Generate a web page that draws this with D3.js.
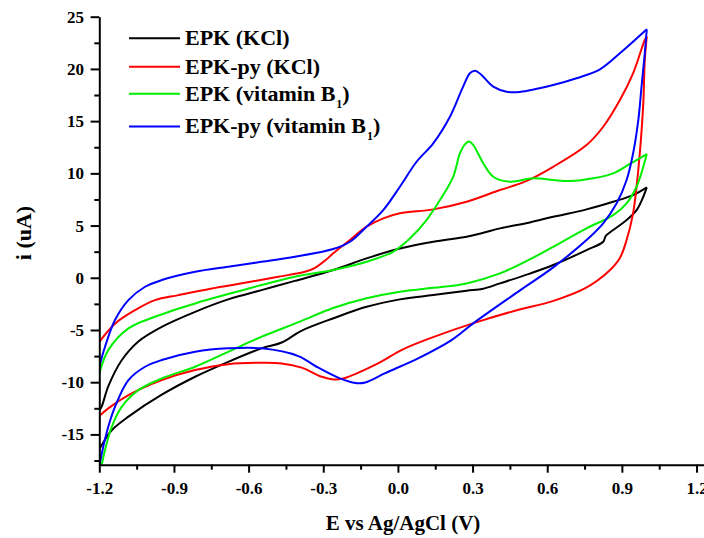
<!DOCTYPE html>
<html>
    <head>
        <meta charset="utf-8">
        <script src="https://cdnjs.cloudflare.com/ajax/libs/d3/7.8.5/d3.min.js"></script>
        <title>Cyclic voltammograms</title>
        <style>
            html, body {
                margin: 0;
                background: #fff;
            }
            svg {
                display: block;
                font-family: "Liberation Serif", "Times New Roman", serif;
                font-weight: bold;
            }
        </style>
    </head>
    <body>
        <svg width="704" height="538"></svg>

        <script>
            // tick labels
            var xTicks = [-1.2, -0.9, -0.6, -0.3, 0.0, 0.3, 0.6, 0.9, 1.2];
            var xMinor = [-1.05, -0.75, -0.45, -0.15, 0.15, 0.45, 0.75, 1.05];
            var yTicks = [-15, -10, -5, 0, 5, 10, 15, 20, 25];
            var yMinor = [-17.5, -12.5, -7.5, -2.5, 2.5, 7.5, 12.5, 17.5, 22.5];

            // [E (V), i (uA)] - forward (anodic) and reverse scans
            var epkKClFwd = [[-1.2,-12.7],[-1.19,-12.3],[-1.164,-10.4],[-1.11,-7.9],[-1.043,-6.1],[-0.949,-4.7],[-0.815,-3.26],[-0.682,-2.07],[-0.548,-1.18],[-0.414,-0.3],[-0.26,0.74],[-0.126,1.86],[0.008,2.8],[0.142,3.45],[0.276,3.93],[0.343,4.31],[0.41,4.73],[0.53,5.3],[0.624,5.84],[0.758,6.55],[0.865,7.28],[0.945,7.92],[1.0,8.66]];
            var epkKClRev = [[1.0,8.66],[0.986,7.76],[0.959,6.48],[0.919,5.53],[0.865,4.57],[0.835,4.0],[0.825,3.45],[0.758,2.65],[0.624,1.22],[0.53,0.4],[0.41,-0.54],[0.343,-1.05],[0.276,-1.24],[0.142,-1.66],[0.008,-2.07],[-0.126,-2.78],[-0.256,-3.85],[-0.39,-5.1],[-0.467,-6.2],[-0.548,-6.76],[-0.682,-8.05],[-0.815,-9.48],[-0.949,-11.2],[-1.083,-13.3],[-1.15,-14.6],[-1.19,-16.0],[-1.2,-16.4]];

            var epkPyKClFwd = [[-1.2,-6.13],[-1.136,-4.37],[-1.056,-3.09],[-0.976,-2.14],[-0.882,-1.66],[-0.748,-1.02],[-0.615,-0.48],[-0.481,0.1],[-0.374,0.57],[-0.333,0.95],[-0.29,1.7],[-0.26,2.34],[-0.193,3.61],[-0.126,4.89],[-0.059,5.69],[0.008,6.17],[0.142,6.55],[0.276,7.28],[0.41,8.4],[0.51,9.2],[0.624,10.63],[0.758,12.71],[0.825,14.46],[0.892,17.02],[0.945,19.58],[0.992,22.77],[1.0,23.1]];
            var epkPyKClRev = [[1.0,23.1],[0.992,20.85],[0.986,16.7],[0.972,11.9],[0.959,8.72],[0.945,6.17],[0.919,3.61],[0.892,1.9],[0.846,0.6],[0.753,-1.0],[0.619,-2.26],[0.485,-3.06],[0.304,-4.34],[0.15,-5.61],[0.016,-6.9],[-0.078,-8.17],[-0.22,-9.64],[-0.26,-9.73],[-0.306,-9.48],[-0.387,-8.6],[-0.467,-8.2],[-0.548,-8.14],[-0.682,-8.27],[-0.815,-8.84],[-0.949,-9.8],[-1.083,-11.24],[-1.164,-12.51],[-1.2,-13.25]];

            var epkB1Fwd = [[-1.2,-9.16],[-1.164,-6.93],[-1.083,-4.85],[-0.976,-3.73],[-0.815,-2.46],[-0.682,-1.56],[-0.548,-0.7],[-0.414,0.1],[-0.26,0.74],[-0.126,1.53],[-0.02,2.49],[0.048,3.77],[0.115,5.53],[0.169,7.44],[0.222,9.67],[0.249,11.9],[0.27,12.8],[0.285,13.05],[0.303,12.71],[0.343,10.96],[0.383,9.67],[0.45,9.2],[0.544,9.52],[0.624,9.36],[0.691,9.26],[0.785,9.52],[0.865,10.0],[0.932,10.9],[1.0,11.85]];
            var epkB1Rev = [[1.0,11.85],[0.986,10.63],[0.959,8.72],[0.919,7.13],[0.865,6.0],[0.758,4.73],[0.624,2.97],[0.53,1.76],[0.41,0.42],[0.276,-0.54],[0.142,-0.96],[0.008,-1.34],[-0.126,-1.97],[-0.26,-2.9],[-0.394,-4.2],[-0.548,-5.65],[-0.682,-7.09],[-0.815,-8.52],[-0.949,-9.64],[-1.043,-10.76],[-1.11,-12.36],[-1.15,-14.27],[-1.177,-16.5],[-1.19,-17.9],[-1.195,-18.6]];

            var epkPyB1Fwd = [[-1.2,-8.52],[-1.177,-6.61],[-1.137,-4.05],[-1.083,-2.14],[-1.016,-0.86],[-0.949,-0.22],[-0.815,0.57],[-0.682,1.05],[-0.548,1.53],[-0.414,2.01],[-0.26,2.75],[-0.193,3.45],[-0.126,4.89],[-0.059,6.48],[0.008,8.72],[0.075,11.11],[0.142,12.87],[0.209,15.42],[0.262,18.3],[0.29,19.6],[0.311,19.83],[0.336,19.42],[0.383,18.3],[0.437,17.82],[0.49,17.8],[0.624,18.46],[0.718,19.1],[0.812,19.96],[0.892,21.49],[1.0,23.79]];
            var epkPyB1Rev = [[1.0,23.79],[0.992,21.49],[0.979,18.3],[0.966,15.1],[0.945,11.9],[0.919,9.36],[0.879,7.13],[0.825,5.21],[0.758,3.61],[0.624,1.0],[0.485,-1.3],[0.304,-4.34],[0.217,-5.94],[0.083,-7.69],[-0.051,-9.13],[-0.131,-10.02],[-0.17,-10.08],[-0.233,-9.64],[-0.327,-8.52],[-0.4,-7.5],[-0.548,-6.76],[-0.682,-6.76],[-0.815,-7.09],[-0.949,-7.88],[-1.016,-8.52],[-1.083,-9.8],[-1.137,-12.36],[-1.164,-14.27],[-1.19,-16.82],[-1.2,-18.1]];

            var series = [
                {name: "EPK (KCl)", sub: null, color: "#000000", scans: [epkKClFwd, epkKClRev]},
                {name: "EPK-py (KCl)", sub: null, color: "#ff0000", scans: [epkPyKClFwd, epkPyKClRev]},
                {name: "EPK (vitamin B", sub: "1", color: "#00ee00", scans: [epkB1Fwd, epkB1Rev]},
                {name: "EPK-py (vitamin B", sub: "1", color: "#0000ff", scans: [epkPyB1Fwd, epkPyB1Rev]}
            ];

            var svg = d3.select("svg");

            var x = d3.scaleLinear().domain([-1.2, 1.23]).range([99.3, 704]);
            var y = d3.scaleLinear().domain([-17.9, 25]).range([464.7, 16.7]);

            // plain hyphen for negatives, like the original
            function fmt(f) {
                var g = d3.format(f);
                return function(d){ return g(d).replace("\u2212", "-"); };
            }

            // clip curves to plot area
            svg.append("clipPath").attr("id", "plot")
                .append("rect")
                .attr("x", 99).attr("y", 16.7)
                .attr("width", 605).attr("height", 448);

            var line = d3.line()
                .x(function(d){ return x(d[0]); })
                .y(function(d){ return y(d[1]); })
                .curve(d3.curveCatmullRom.alpha(0.5));

            var curves = svg.append("g").attr("clip-path", "url(#plot)");
            series.forEach(function(s){
                s.scans.forEach(function(scan){
                    curves.append("path")
                        .attr("d", line(scan))
                        .attr("fill", "none")
                        .attr("stroke", s.color)
                        .attr("stroke-width", 2)
                        .attr("stroke-linejoin", "round");
                });
            });

            // axes
            svg.append("g")
                .attr("transform", "translate(0," + y.range()[0] + ")")
                .call(d3.axisBottom(x).tickValues(xTicks).tickSize(8).tickSizeOuter(0)
                    .tickPadding(9).tickFormat(fmt(".1f")));
            svg.append("g")
                .attr("transform", "translate(0," + y.range()[0] + ")")
                .call(d3.axisBottom(x).tickValues(xMinor).tickSize(5).tickSizeOuter(0).tickFormat(""))
                .select(".domain").remove();

            svg.append("g")
                .attr("transform", "translate(" + x.range()[0] + ",0)")
                .call(d3.axisLeft(y).tickValues(yTicks).tickSize(8.7).tickSizeOuter(0)
                    .tickPadding(6.5).tickFormat(fmt("d")));
            svg.append("g")
                .attr("transform", "translate(" + x.range()[0] + ",0)")
                .call(d3.axisLeft(y).tickValues(yMinor).tickSize(5).tickSizeOuter(0).tickFormat(""))
                .select(".domain").remove();

            svg.selectAll(".domain, .tick line")
                .attr("stroke", "#000")
                .attr("stroke-width", 2);
            svg.selectAll(".tick text")
                .attr("fill", "#000")
                .style("font-family", "'Liberation Serif', serif")
                .style("font-weight", "bold")
                .style("font-size", "17px");

            // axis titles
            svg.append("text")
                .attr("x", 403).attr("y", 530)
                .attr("text-anchor", "middle")
                .style("font-size", "21px")
                .text("E vs Ag/AgCl (V)");
            svg.append("text")
                .attr("transform", "translate(31,233) rotate(-90)")
                .attr("text-anchor", "middle")
                .style("font-size", "22px")
                .text("i (uA)");

            // legend
            var legendRows = [38.3, 66.7, 93.7, 126.5];
            var legend = svg.append("g");
            series.forEach(function(s, i){
                var ly = legendRows[i];
                legend.append("line")
                    .attr("x1", 129).attr("x2", 180)
                    .attr("y1", ly).attr("y2", ly)
                    .attr("stroke", s.color)
                    .attr("stroke-width", 2);
                var t = legend.append("text")
                    .attr("x", 185).attr("y", ly + 6.8)
                    .style("font-size", "22px");
                t.append("tspan").text(s.name);
                if (s.sub) {
                    t.append("tspan").attr("dy", 7).attr("dx", 1).style("font-size", "12px").text(s.sub);
                    t.append("tspan").attr("dy", -7).text(")");
                }
            });
        </script>
    </body>
</html>
